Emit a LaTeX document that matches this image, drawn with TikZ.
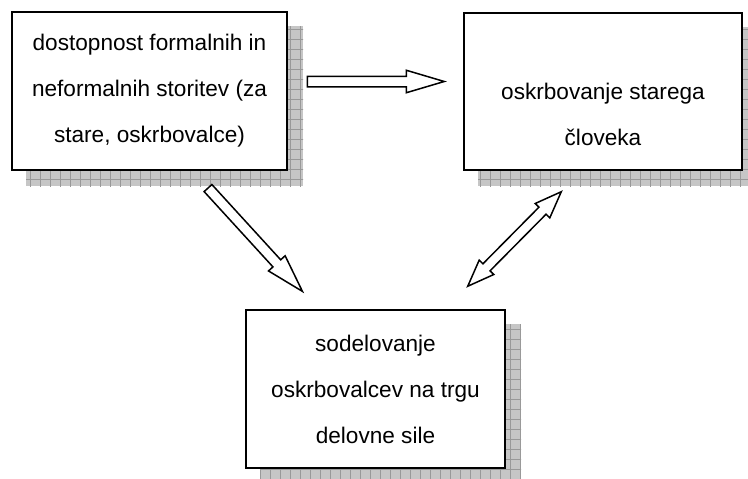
\documentclass[tikz,border=0pt]{standalone}
\usepackage{fontspec}
\setmainfont{Liberation Sans}
\usetikzlibrary{shapes.arrows,patterns.meta,backgrounds}

\tikzset{
  box/.style={draw,line width=2pt,fill=white,align=center,inner sep=0pt,
    font=\fontsize{22.6}{46}\selectfont},
  boxshadow/.style={fill=gray!45,
    postaction={pattern={Hatch[angle=0,distance=10pt,line width=0.6pt]},pattern color=gray!80}},
  block/.style={single arrow,draw,line width=1.5pt,inner sep=0pt,inner ysep=4.5pt,
    single arrow head extend=6pt,single arrow tip angle=33},
  twoway/.style={double arrow,draw,line width=1.5pt,inner sep=0pt,inner ysep=4.25pt,
    double arrow head extend=5.25pt,double arrow tip angle=42}
}

\begin{document}
\begin{tikzpicture}[x=1pt,y=-1pt]
\useasboundingbox (0,0) rectangle (748,479);

\node[box,minimum width=275pt,minimum height=158pt] (DS) at (149.5,91) {dostopnost formalnih in\\neformalnih storitev (za\\stare, oskrbovalce)};
\node[box,minimum width=278pt,minimum height=157pt] (OS) at (603,91.5) {\vphantom{d}\\oskrbovanje starega\\človeka};
\node[box,minimum width=259pt,minimum height=158pt] (SO) at (375.5,389) {sodelovanje\\oskrbovalcev na trgu\\delovne sile};

\begin{scope}[on background layer]
\foreach \b in {DS,OS,SO}
  \fill[boxshadow] ([shift={(15,15)}]\b.south west) rectangle ([shift={(15,15)}]\b.north east);
\end{scope}

\coordinate (DSout) at (306.5,81.5);
\coordinate (OSin) at (445,81.5);
\coordinate (DSdown) at (207.5,187.5);
\coordinate (SOin) at (303,292);
\coordinate (SOup) at (467,287);
\coordinate (OSdown) at (562,191);

\path (DSout) -- (OSin) node[block,at start,anchor=tail,sloped,minimum height=137pt] (DSOS) {};
\path (DSdown) -- (SOin) node[block,at start,anchor=tail,sloped,minimum height=140pt] (DSSO) {};
\path (SOup) -- (OSdown) node[twoway,midway,sloped,minimum height=133pt] (SOOS) {};
\end{tikzpicture}
\end{document}
